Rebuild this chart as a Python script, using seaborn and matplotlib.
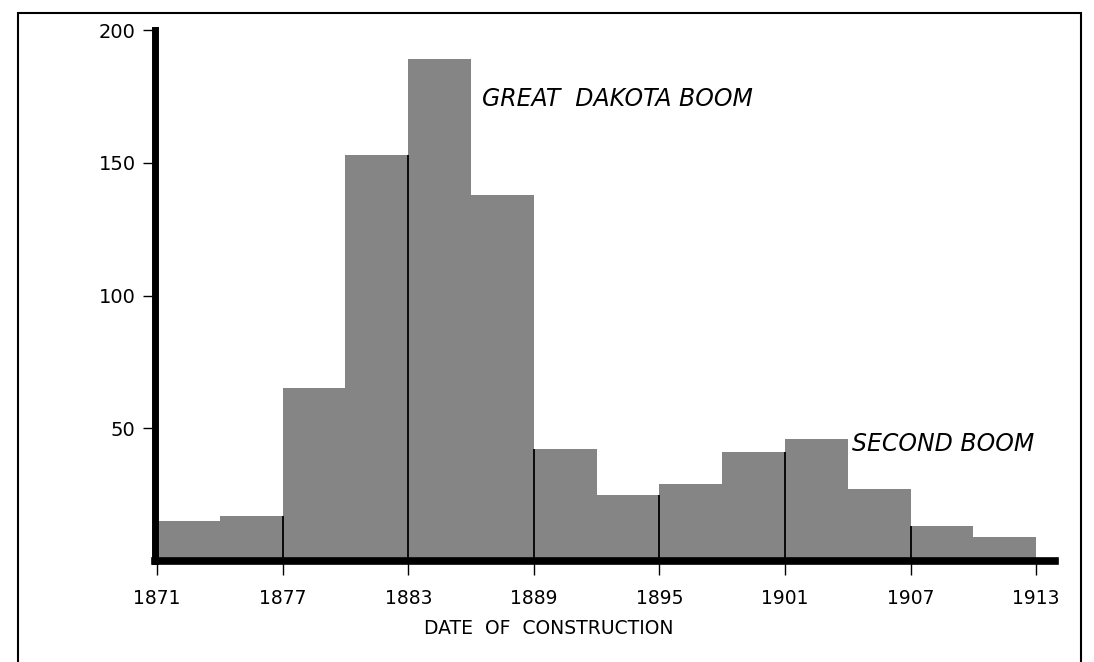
import numpy as np
import pandas as pd
import matplotlib.pyplot as plt
import seaborn as sns
from matplotlib.patches import Rectangle

# Bins of three years, 1871-1913
bin_edges = [1871, 1874, 1877, 1880, 1883, 1886, 1889, 1892, 1895, 1898, 1901, 1904, 1907, 1910, 1913]
counts = [15, 17, 65, 153, 189, 138, 42, 25, 29, 41, 46, 27, 13, 9]
tick_years = [1871, 1877, 1883, 1889, 1895, 1901, 1907, 1913]
y_ticks = [50, 100, 150, 200]

df = pd.DataFrame({
    'start': bin_edges[:-1],
    'count': counts,
})
df['mid'] = df['start'] + 1.5

sns.set_style('ticks')
plt.rcParams['font.family'] = ['DejaVu Sans']
plt.rcParams['text.color'] = 'black'
plt.rcParams['xtick.color'] = 'black'
plt.rcParams['ytick.color'] = 'black'
plt.rcParams['axes.labelcolor'] = 'black'

fig = plt.figure(figsize=(10.94, 6.62), dpi=100)
ax = fig.add_axes([155 / 1094, 101 / 662, 900 / 1094, 531 / 662])

sns.histplot(data=df, x='mid', weights='count', bins=bin_edges,
             color='#858585', alpha=1, linewidth=0, ax=ax)

# thin dividing lines at the labelled years, up to the lower neighbouring bar
inner = tick_years[1:-1]
line_tops = []
for yr in inner:
    i = bin_edges.index(yr)
    line_tops.append(min(counts[i - 1], counts[i]))
ax.vlines(inner, 0, line_tops, color='black', linewidth=1.3)

ax.set_xlim(1870.9, 1913.9)
ax.set_ylim(0, 200)
ax.set_xticks(tick_years)
ax.set_xticklabels([str(y) for y in tick_years], fontsize=13.5)
ax.set_yticks(y_ticks)
ax.set_yticklabels([str(y) for y in y_ticks], fontsize=14)
ax.tick_params(axis='x', length=10, width=1, pad=10)
ax.tick_params(axis='y', length=9, width=1, pad=5)

for side in ['top', 'right']:
    ax.spines[side].set_visible(False)
ax.spines['left'].set_linewidth(5)
ax.spines['bottom'].set_linewidth(5.5)
ax.spines['left'].set_color('black')
ax.spines['bottom'].set_color('black')

ax.set_ylabel('')
ax.set_xlabel('DATE  OF  CONSTRUCTION', fontsize=13.5)
ax.xaxis.set_label_coords(0.437, -0.11)

ax.text(1886.5, 174, 'GREAT  DAKOTA BOOM', fontsize=17, style='italic', va='center', ha='left')
ax.text(1904.2, 44, 'SECOND BOOM', fontsize=17, style='italic', va='center', ha='left')

# outer frame of the figure
frame = Rectangle((18 / 1094, -0.05), (1081 - 18) / 1094, 1.05 - 13 / 662,
                  transform=fig.transFigure, fill=False, edgecolor='black',
                  linewidth=1.5, clip_on=False)
fig.patches.append(frame)

fig.savefig('out.png', dpi=100)
